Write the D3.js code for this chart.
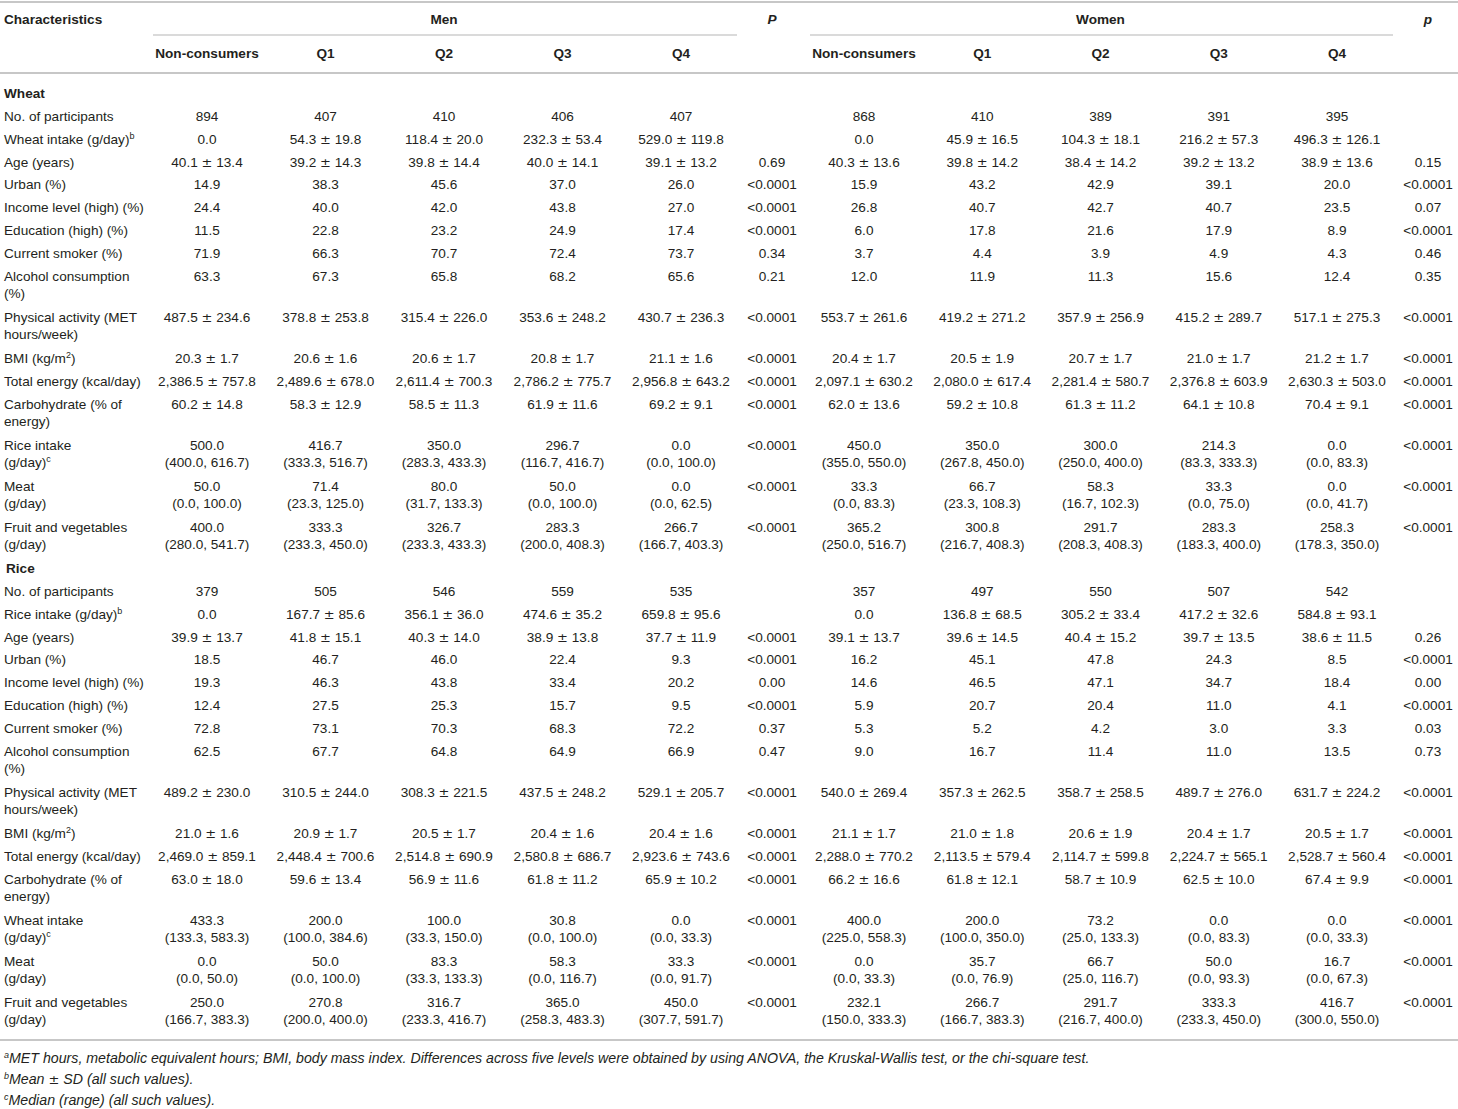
<!DOCTYPE html>
<html>
<head>
<meta charset="utf-8">
<script src="https://cdn.jsdelivr.net/npm/d3@7"></script>
<style>
  body { margin: 0; background: #fff; }
  text { font-family: "Liberation Sans", Arial, sans-serif; font-size: 13.6px; fill: #231f20; }
  .pm { font-family: "DejaVu Sans", sans-serif; font-size: 13px; }
</style>
</head>
<body>
<div id="chart-area"></div>
<script>
// Table columns
var sexes = ["Men", "Women"];
var pHeads = ["P", "p"];
var levels = ["Non-consumers", "Q1", "Q2", "Q3", "Q4"];
var sections = ["Wheat", "Rice"];

// Row labels ({x} = superscript, \n = second line)
var wheatLabels = [
  "No. of participants", "Wheat intake (g/day){b}", "Age (years)", "Urban (%)",
  "Income level (high) (%)", "Education (high) (%)", "Current smoker (%)",
  "Alcohol consumption\n(%)", "Physical activity (MET\nhours/week)", "BMI (kg/m{2})",
  "Total energy (kcal/day)", "Carbohydrate (% of\nenergy)", "Rice intake\n(g/day){c}",
  "Meat\n(g/day)", "Fruit and vegetables\n(g/day)"
];
var riceLabels = [
  "No. of participants", "Rice intake (g/day){b}", "Age (years)", "Urban (%)",
  "Income level (high) (%)", "Education (high) (%)", "Current smoker (%)",
  "Alcohol consumption\n(%)", "Physical activity (MET\nhours/week)", "BMI (kg/m{2})",
  "Total energy (kcal/day)", "Carbohydrate (% of\nenergy)", "Wheat intake\n(g/day){c}",
  "Meat\n(g/day)", "Fruit and vegetables\n(g/day)"
];

// Wheat, men
var wheatMen = [
  ["894", "407", "410", "406", "407"],
  ["0.0", "54.3 ± 19.8", "118.4 ± 20.0", "232.3 ± 53.4", "529.0 ± 119.8"],
  ["40.1 ± 13.4", "39.2 ± 14.3", "39.8 ± 14.4", "40.0 ± 14.1", "39.1 ± 13.2"],
  ["14.9", "38.3", "45.6", "37.0", "26.0"],
  ["24.4", "40.0", "42.0", "43.8", "27.0"],
  ["11.5", "22.8", "23.2", "24.9", "17.4"],
  ["71.9", "66.3", "70.7", "72.4", "73.7"],
  ["63.3", "67.3", "65.8", "68.2", "65.6"],
  ["487.5 ± 234.6", "378.8 ± 253.8", "315.4 ± 226.0", "353.6 ± 248.2", "430.7 ± 236.3"],
  ["20.3 ± 1.7", "20.6 ± 1.6", "20.6 ± 1.7", "20.8 ± 1.7", "21.1 ± 1.6"],
  ["2,386.5 ± 757.8", "2,489.6 ± 678.0", "2,611.4 ± 700.3", "2,786.2 ± 775.7", "2,956.8 ± 643.2"],
  ["60.2 ± 14.8", "58.3 ± 12.9", "58.5 ± 11.3", "61.9 ± 11.6", "69.2 ± 9.1"],
  ["500.0\n(400.0, 616.7)", "416.7\n(333.3, 516.7)", "350.0\n(283.3, 433.3)", "296.7\n(116.7, 416.7)", "0.0\n(0.0, 100.0)"],
  ["50.0\n(0.0, 100.0)", "71.4\n(23.3, 125.0)", "80.0\n(31.7, 133.3)", "50.0\n(0.0, 100.0)", "0.0\n(0.0, 62.5)"],
  ["400.0\n(280.0, 541.7)", "333.3\n(233.3, 450.0)", "326.7\n(233.3, 433.3)", "283.3\n(200.0, 408.3)", "266.7\n(166.7, 403.3)"]
];
var wheatMenP = ["", "", "0.69", "<0.0001", "<0.0001", "<0.0001", "0.34", "0.21",
  "<0.0001", "<0.0001", "<0.0001", "<0.0001", "<0.0001", "<0.0001", "<0.0001"];

// Wheat, women
var wheatWomen = [
  ["868", "410", "389", "391", "395"],
  ["0.0", "45.9 ± 16.5", "104.3 ± 18.1", "216.2 ± 57.3", "496.3 ± 126.1"],
  ["40.3 ± 13.6", "39.8 ± 14.2", "38.4 ± 14.2", "39.2 ± 13.2", "38.9 ± 13.6"],
  ["15.9", "43.2", "42.9", "39.1", "20.0"],
  ["26.8", "40.7", "42.7", "40.7", "23.5"],
  ["6.0", "17.8", "21.6", "17.9", "8.9"],
  ["3.7", "4.4", "3.9", "4.9", "4.3"],
  ["12.0", "11.9", "11.3", "15.6", "12.4"],
  ["553.7 ± 261.6", "419.2 ± 271.2", "357.9 ± 256.9", "415.2 ± 289.7", "517.1 ± 275.3"],
  ["20.4 ± 1.7", "20.5 ± 1.9", "20.7 ± 1.7", "21.0 ± 1.7", "21.2 ± 1.7"],
  ["2,097.1 ± 630.2", "2,080.0 ± 617.4", "2,281.4 ± 580.7", "2,376.8 ± 603.9", "2,630.3 ± 503.0"],
  ["62.0 ± 13.6", "59.2 ± 10.8", "61.3 ± 11.2", "64.1 ± 10.8", "70.4 ± 9.1"],
  ["450.0\n(355.0, 550.0)", "350.0\n(267.8, 450.0)", "300.0\n(250.0, 400.0)", "214.3\n(83.3, 333.3)", "0.0\n(0.0, 83.3)"],
  ["33.3\n(0.0, 83.3)", "66.7\n(23.3, 108.3)", "58.3\n(16.7, 102.3)", "33.3\n(0.0, 75.0)", "0.0\n(0.0, 41.7)"],
  ["365.2\n(250.0, 516.7)", "300.8\n(216.7, 408.3)", "291.7\n(208.3, 408.3)", "283.3\n(183.3, 400.0)", "258.3\n(178.3, 350.0)"]
];
var wheatWomenP = ["", "", "0.15", "<0.0001", "0.07", "<0.0001", "0.46", "0.35",
  "<0.0001", "<0.0001", "<0.0001", "<0.0001", "<0.0001", "<0.0001", "<0.0001"];

// Rice, men
var riceMen = [
  ["379", "505", "546", "559", "535"],
  ["0.0", "167.7 ± 85.6", "356.1 ± 36.0", "474.6 ± 35.2", "659.8 ± 95.6"],
  ["39.9 ± 13.7", "41.8 ± 15.1", "40.3 ± 14.0", "38.9 ± 13.8", "37.7 ± 11.9"],
  ["18.5", "46.7", "46.0", "22.4", "9.3"],
  ["19.3", "46.3", "43.8", "33.4", "20.2"],
  ["12.4", "27.5", "25.3", "15.7", "9.5"],
  ["72.8", "73.1", "70.3", "68.3", "72.2"],
  ["62.5", "67.7", "64.8", "64.9", "66.9"],
  ["489.2 ± 230.0", "310.5 ± 244.0", "308.3 ± 221.5", "437.5 ± 248.2", "529.1 ± 205.7"],
  ["21.0 ± 1.6", "20.9 ± 1.7", "20.5 ± 1.7", "20.4 ± 1.6", "20.4 ± 1.6"],
  ["2,469.0 ± 859.1", "2,448.4 ± 700.6", "2,514.8 ± 690.9", "2,580.8 ± 686.7", "2,923.6 ± 743.6"],
  ["63.0 ± 18.0", "59.6 ± 13.4", "56.9 ± 11.6", "61.8 ± 11.2", "65.9 ± 10.2"],
  ["433.3\n(133.3, 583.3)", "200.0\n(100.0, 384.6)", "100.0\n(33.3, 150.0)", "30.8\n(0.0, 100.0)", "0.0\n(0.0, 33.3)"],
  ["0.0\n(0.0, 50.0)", "50.0\n(0.0, 100.0)", "83.3\n(33.3, 133.3)", "58.3\n(0.0, 116.7)", "33.3\n(0.0, 91.7)"],
  ["250.0\n(166.7, 383.3)", "270.8\n(200.0, 400.0)", "316.7\n(233.3, 416.7)", "365.0\n(258.3, 483.3)", "450.0\n(307.7, 591.7)"]
];
var riceMenP = ["", "", "<0.0001", "<0.0001", "0.00", "<0.0001", "0.37", "0.47",
  "<0.0001", "<0.0001", "<0.0001", "<0.0001", "<0.0001", "<0.0001", "<0.0001"];

// Rice, women
var riceWomen = [
  ["357", "497", "550", "507", "542"],
  ["0.0", "136.8 ± 68.5", "305.2 ± 33.4", "417.2 ± 32.6", "584.8 ± 93.1"],
  ["39.1 ± 13.7", "39.6 ± 14.5", "40.4 ± 15.2", "39.7 ± 13.5", "38.6 ± 11.5"],
  ["16.2", "45.1", "47.8", "24.3", "8.5"],
  ["14.6", "46.5", "47.1", "34.7", "18.4"],
  ["5.9", "20.7", "20.4", "11.0", "4.1"],
  ["5.3", "5.2", "4.2", "3.0", "3.3"],
  ["9.0", "16.7", "11.4", "11.0", "13.5"],
  ["540.0 ± 269.4", "357.3 ± 262.5", "358.7 ± 258.5", "489.7 ± 276.0", "631.7 ± 224.2"],
  ["21.1 ± 1.7", "21.0 ± 1.8", "20.6 ± 1.9", "20.4 ± 1.7", "20.5 ± 1.7"],
  ["2,288.0 ± 770.2", "2,113.5 ± 579.4", "2,114.7 ± 599.8", "2,224.7 ± 565.1", "2,528.7 ± 560.4"],
  ["66.2 ± 16.6", "61.8 ± 12.1", "58.7 ± 10.9", "62.5 ± 10.0", "67.4 ± 9.9"],
  ["400.0\n(225.0, 558.3)", "200.0\n(100.0, 350.0)", "73.2\n(25.0, 133.3)", "0.0\n(0.0, 83.3)", "0.0\n(0.0, 33.3)"],
  ["0.0\n(0.0, 33.3)", "35.7\n(0.0, 76.9)", "66.7\n(25.0, 116.7)", "50.0\n(0.0, 93.3)", "16.7\n(0.0, 67.3)"],
  ["232.1\n(150.0, 333.3)", "266.7\n(166.7, 383.3)", "291.7\n(216.7, 400.0)", "333.3\n(233.3, 450.0)", "416.7\n(300.0, 550.0)"]
];
var riceWomenP = ["", "", "0.26", "<0.0001", "0.00", "<0.0001", "0.03", "0.73",
  "<0.0001", "<0.0001", "<0.0001", "<0.0001", "<0.0001", "<0.0001", "<0.0001"];

var footnotes = [
  "{a}MET hours, metabolic equivalent hours; BMI, body mass index. Differences across five levels were obtained by using ANOVA, the Kruskal-Wallis test, or the chi-square test.",
  "{b}Mean ± SD (all such values).",
  "{c}Median (range) (all such values)."
];

var width = 1458, height = 1109;
var svg = d3.select("#chart-area")
  .append("svg")
  .attr("width", width)
  .attr("height", height);

// Column positions
var x = {
  Men: d3.scalePoint().domain(levels).range([207, 681]),
  Women: d3.scalePoint().domain(levels).range([864, 1337])
};
var pX = { Men: 772, Women: 1428 };
var labelX = 4;
var base = 4.8;      // centre -> baseline
var lineGap = 17;
var rowH = 22.9, rowH2 = 41;
var ruleColor = "#b5b5b5";

// write text with {sup} markup into a text element
function rich(sel, str) {
  var parts = str.split(/(\{[^}]*\}|±)/).filter(function (s) { return s !== ""; });
  var lifted = false;
  parts.forEach(function (p) {
    var t;
    if (p.charAt(0) === "{") {
      sel.append("tspan").attr("dy", -5).style("font-size", "9px").text(p.slice(1, -1));
      lifted = true;
      return;
    }
    t = sel.append("tspan").text(p);
    if (p === "±") t.attr("class", "pm");
    if (lifted) t.attr("dy", 5);
    lifted = false;
  });
}

function cell(g, str, xPos, yPos, anchor) {
  str.split("\n").forEach(function (line, i) {
    var t = g.append("text")
      .attr("x", xPos)
      .attr("y", yPos + i * lineGap + base)
      .attr("text-anchor", anchor);
    rich(t, line);
  });
}

function rule(x1, x2, y, w) {
  svg.append("line")
    .attr("x1", x1).attr("x2", x2)
    .attr("y1", y).attr("y2", y)
    .attr("stroke", ruleColor)
    .attr("stroke-width", w || 1.5);
}

// Header
rule(0, width, 2);
rule(0, width, 73);
var head = svg.append("g");
head.append("text").attr("x", labelX).attr("y", 19 + base)
  .style("font-weight", "bold").text("Characteristics");
sexes.forEach(function (s, i) {
  var sx = x[s];
  head.append("text")
    .attr("x", (sx(levels[0]) + sx(levels[4])) / 2)
    .attr("y", 19 + base)
    .attr("text-anchor", "middle")
    .style("font-weight", "bold")
    .text(s);
  head.append("text")
    .attr("x", pX[s]).attr("y", 19 + base)
    .attr("text-anchor", "middle")
    .style("font-weight", "bold").style("font-style", "italic")
    .text(pHeads[i]);
  rule(sx(levels[0]) - 54, sx(levels[4]) + 56, 35, 1.2);
  levels.forEach(function (l) {
    head.append("text")
      .attr("x", sx(l)).attr("y", 53 + base)
      .attr("text-anchor", "middle")
      .style("font-weight", "bold")
      .text(l);
  });
});

// Body
var blocks = [
  { name: sections[0], labels: wheatLabels, Men: wheatMen, MenP: wheatMenP, Women: wheatWomen, WomenP: wheatWomenP },
  { name: sections[1], labels: riceLabels, Men: riceMen, MenP: riceMenP, Women: riceWomen, WomenP: riceWomenP }
];

var body = svg.append("g");
var y = 93;
blocks.forEach(function (b, bi) {
  body.append("text")
    .attr("x", labelX + (bi ? 2 : 0)).attr("y", y + base)
    .style("font-weight", "bold")
    .text(b.name);
  y += rowH;
  b.labels.forEach(function (lab, r) {
    cell(body, lab, labelX, y, "start");
    sexes.forEach(function (s) {
      b[s][r].forEach(function (v, c) {
        cell(body, v, x[s](levels[c]), y, "middle");
      });
      cell(body, b[s + "P"][r], pX[s], y, "middle");
    });
    y += lab.indexOf("\n") >= 0 ? rowH2 : rowH;
  });
});

// Footer
rule(0, width, 1040);
footnotes.forEach(function (f, i) {
  var t = svg.append("text")
    .attr("x", labelX)
    .attr("y", 1058 + i * 21 + base)
    .style("font-style", "italic")
    .style("font-size", "14.2px");
  rich(t, f);
});
</script>
</body>
</html>
